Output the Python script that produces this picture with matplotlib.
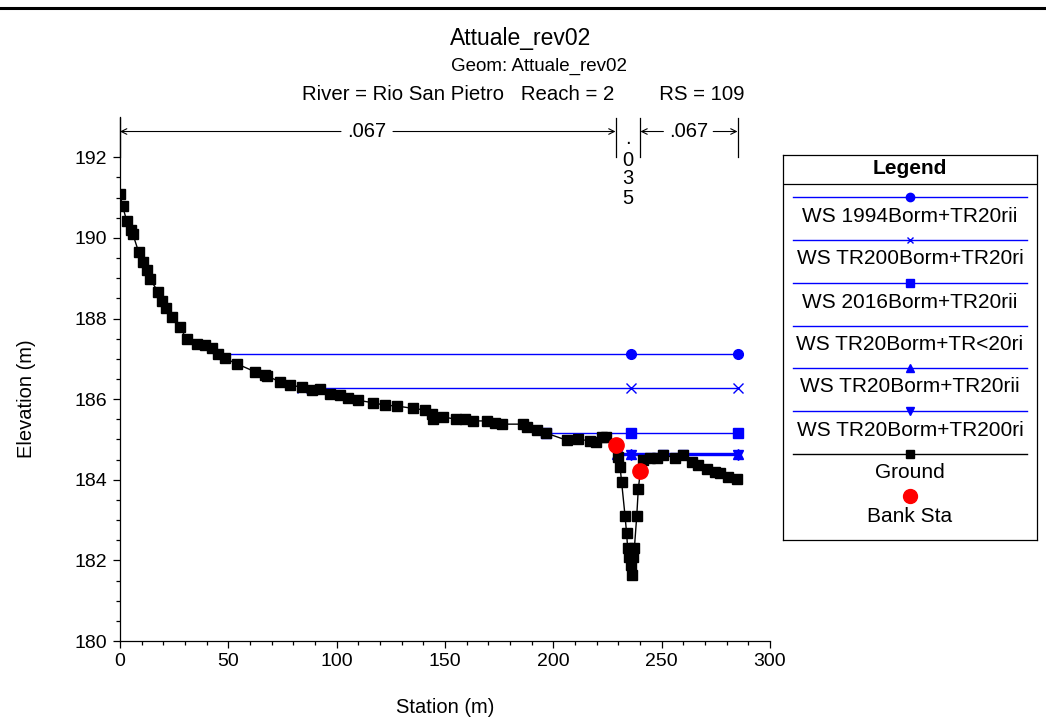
import matplotlib
matplotlib.use("Agg")
import matplotlib.pyplot as plt
from matplotlib.lines import Line2D

plt.rcParams['font.family'] = ['Liberation Sans', 'DejaVu Sans']

# ---------------- data ----------------
ground_sta = [0, 1.2, 3.1, 4.9, 5.9, 8.6, 10.5, 12.6, 13.8, 17.7, 19.5, 21.2, 23.8, 27.7,
              30.8, 35.4, 39.2, 42.3, 45.4, 48.5, 53.8, 62.3, 66.9, 67.7, 73.8, 78.5, 83.8,
              88.5, 92.3, 96.9, 101.5, 105.4, 110, 116.9, 122.3, 127.7, 135.4, 140.8, 143.9,
              144.6, 149.2, 155.1, 159.2, 163.1, 169.2, 173.1, 176.2, 185.8, 187.7, 192.3,
              196.6, 206.2, 211.5, 216.9, 219.7, 222.3, 224.5, 228.7, 230.0, 230.8, 231.5,
              233.1, 233.8, 234.3, 235.1, 235.7, 236.2, 236.9, 237.4, 238.5, 239.2, 240.2,
              241.5, 244.6, 247.7, 250.8, 256.2, 260.0, 263.8, 266.9, 270.8, 274.6, 276.9,
              280.8, 284.6]
ground_elev = [191.08, 190.79, 190.42, 190.19, 190.10, 189.65, 189.40, 189.20, 188.99, 188.65,
               188.44, 188.25, 188.04, 187.79, 187.48, 187.38, 187.34, 187.26, 187.13, 187.01,
               186.88, 186.68, 186.60, 186.58, 186.43, 186.36, 186.29, 186.22, 186.26, 186.14,
               186.10, 186.04, 185.97, 185.91, 185.85, 185.83, 185.77, 185.73, 185.64, 185.52,
               185.56, 185.50, 185.50, 185.46, 185.46, 185.41, 185.38, 185.38, 185.31, 185.23,
               185.16, 184.98, 185.00, 184.97, 184.94, 185.07, 185.05, 184.86, 184.57, 184.32,
               183.95, 183.10, 182.68, 182.31, 182.09, 181.88, 181.64, 182.09, 182.30, 183.10,
               183.76, 184.22, 184.49, 184.53, 184.55, 184.61, 184.55, 184.61, 184.44, 184.36,
               184.26, 184.20, 184.18, 184.06, 184.01]

bank_sta = [228.7, 240.2]
bank_elev = [184.86, 184.22]

ws_labels = ["WS 1994Borm+TR20rii", "WS TR200Borm+TR20ri", "WS 2016Borm+TR20rii",
             "WS TR20Borm+TR<20ri", "WS TR20Borm+TR20rii", "WS TR20Borm+TR200ri"]
ws_elev = [187.13, 186.28, 185.16, 184.66, 184.64, 184.62]
ws_sta = [[45.4, 235.9, 285.0],
          [83.8, 235.9, 285.0],
          [196.6, 235.9, 285.0],
          [229.5, 285.0],
          [229.5, 235.9, 285.0],
          [229.5, 235.9, 250.8, 260.0, 285.0]]
ws_markers = ['o', 'x', 's', 'None', '^', 'v']

n_values = [".067", ".035", ".067"]
left_sta, right_sta = 0.0, 285.0

title = "Attuale_rev02"
subtitle = "Geom: Attuale_rev02"
info = "River = Rio San Pietro   Reach = 2        RS = 109"

# ---------------- figure ----------------
W, H = 1046, 720
fig = plt.figure(figsize=(W / 100, H / 100), dpi=100)

def fx(px):
    return px / W

def fy(py):
    return 1 - py / H

FS = 14.5
LFS = 15
ax = fig.add_axes([fx(120), fy(641), fx(770) - fx(120), fy(117) - fy(641)])
ax.set_xlim(0, 300)
ax.set_ylim(180, 193)
for s in ['top', 'right']:
    ax.spines[s].set_visible(False)
for s in ['left', 'bottom']:
    ax.spines[s].set_linewidth(0.9)
ax.set_xticks([0, 50, 100, 150, 200, 250, 300])
ax.set_xticks(range(0, 301, 10), minor=True)
ax.set_yticks([180, 182, 184, 186, 188, 190, 192])
ax.set_yticks([180 + 0.5 * i for i in range(25)], minor=True)
ax.tick_params(which='major', direction='out', length=5, width=0.9, labelsize=14, pad=4)
ax.tick_params(which='minor', direction='out', length=3, width=0.9)
ax.set_xlabel("Station (m)", fontsize=14.5, labelpad=20)
ax.set_ylabel("Elevation (m)", fontsize=14.5)
ax.yaxis.set_label_coords(-0.129, (186 - 180) / 13)

blue = '#0000FF'
for sta, el, mk in zip(ws_sta, ws_elev, ws_markers):
    ax.plot(sta, [el] * len(sta), color=blue, lw=1.0, marker=mk,
            ms=7 if mk != 'x' else 6.5, mew=1.0, zorder=2)

ax.plot(ground_sta, ground_elev, color='black', lw=1.0, marker='s', ms=7.3, zorder=3)
ax.plot(bank_sta, bank_elev, color='#FF0000', lw=0, marker='o', ms=11, zorder=4)

# Manning's n annotation
bars = [left_sta, bank_sta[0], bank_sta[1], right_sta]
for b in bars:
    ax.plot([b, b], [192.0, 192.98], color='black', lw=0.9, clip_on=False)
ya = 192.64
arrow = dict(arrowstyle='->', lw=0.8, color='black', shrinkA=0, shrinkB=0)
cx = 114.0
ax.text(cx, ya, n_values[0], ha='center', va='center', fontsize=FS)
ax.annotate('', xy=(bars[0], ya), xytext=(cx - 12.0, ya), arrowprops=arrow, annotation_clip=False)
ax.annotate('', xy=(bars[1], ya), xytext=(cx + 12.0, ya), arrowprops=arrow, annotation_clip=False)
mx = (bars[1] + bars[2]) / 2
ax.text(mx, 192.32, ".", ha='center', va='baseline', fontsize=FS)
for ch, yy in zip(n_values[1][1:], [191.92, 191.47, 190.98]):
    ax.text(mx, yy, ch, ha='center', va='center', fontsize=FS)
rx = 262.3
ax.text(rx, ya, n_values[2], ha='center', va='center', fontsize=FS)
ax.annotate('', xy=(bars[2], ya), xytext=(rx - 11.5, ya), arrowprops=arrow, annotation_clip=False)
ax.annotate('', xy=(bars[3], ya), xytext=(rx + 11.5, ya), arrowprops=arrow, annotation_clip=False)

# titles
fig.text(fx(521), fy(38), title, ha='center', va='center', fontsize=16.5)
fig.text(fx(539), fy(66), subtitle, ha='center', va='center', fontsize=13.5)
fig.text(fx(523), fy(95), info, ha='center', va='center', fontsize=14.7)

# top rule
fig.add_artist(Line2D([0, 1], [fy(8), fy(8)], color='black', lw=2.2))

# ---------------- legend box ----------------
lx0, lx1, ly0, ly1 = 783, 1037, 155, 540
lax = fig.add_axes([fx(lx0), fy(ly1), fx(lx1) - fx(lx0), fy(ly0) - fy(ly1)])
lax.set_xlim(lx0, lx1)
lax.set_ylim(ly1, ly0)
lax.set_xticks([])
lax.set_yticks([])
for s in lax.spines.values():
    s.set_linewidth(0.9)
lax.plot([lx0, lx1], [184, 184], color='black', lw=0.9)
lax.text((lx0 + lx1) / 2, 169, "Legend", ha='center', va='center', fontsize=LFS,
         fontweight='bold')
cxl = 910
line_y = [197, 240, 283, 326, 368, 411, 454]
text_y = [216, 259, 302, 344, 387, 430, 472]
for i, lab in enumerate(ws_labels):
    lax.plot([793, 1027], [line_y[i]] * 2, color=blue, lw=1.0)
    if ws_markers[i] != 'None':
        lax.plot([cxl], [line_y[i]], color=blue, marker=ws_markers[i],
                 ms=6 if ws_markers[i] != 'x' else 5, mew=1.0)
    lax.text(cxl, text_y[i], lab, ha='center', va='center', fontsize=LFS)
lax.plot([793, 1027], [line_y[6]] * 2, color='black', lw=1.0)
lax.plot([cxl], [line_y[6]], color='black', marker='s', ms=6)
lax.text(cxl, text_y[6], "Ground", ha='center', va='center', fontsize=LFS)
lax.plot([cxl], [496], color='#FF0000', marker='o', ms=10)
lax.text(cxl, 516, "Bank Sta", ha='center', va='center', fontsize=LFS)

fig.savefig("out.png", dpi=100)
